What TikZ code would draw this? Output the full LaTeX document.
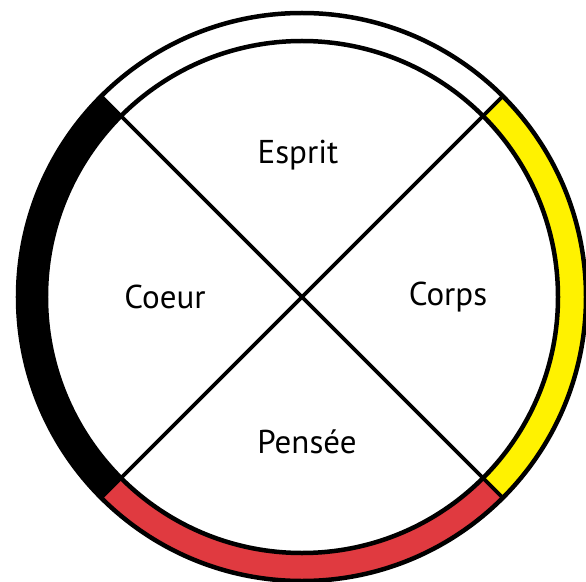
\documentclass[tikz,border=0pt]{standalone}
\usepackage{fontspec}
\setmainfont{PT Sans}
\definecolor{wheelyellow}{RGB}{255,242,0}
\definecolor{wheelred}{RGB}{224,58,64}
\begin{document}
\begin{tikzpicture}[
    x=1pt, y=1pt,
    % all outlines share the same weight
    rim/.style={draw=black, line width=4.5pt},
    cross/.style={draw=black, line width=3.6pt},
    % quarter labels
    lbl/.style={font=\fontsize{33}{38}\selectfont, inner sep=0pt},
]
\def\R{284}
\def\r{256}

% canvas: 586 x 581, wheel centre at (302,297) from top-left
\useasboundingbox (-302,-284) rectangle (284,297);

%% ── Coloured ring quarters ──
\foreach \col/\a in {wheelyellow/-45, wheelred/-135, black/135}{
  \fill[\col] (\a:\R) arc[start angle=\a, end angle=\a+90, radius=\R]
        -- (\a+90:\r) arc[start angle=\a+90, end angle=\a, radius=\r] -- cycle;
}

%% ── Ends of the two diagonals ──
\coordinate (ne) at (45:\R);
\coordinate (nw) at (135:\R);
\coordinate (sw) at (225:\R);
\coordinate (se) at (315:\R);

%% ── Circles ──
\draw[rim] (0,0) circle[radius=\R];
\draw[rim] (0,0) circle[radius=\r];

%% ── Diagonals ──
\draw[cross] (nw) -- (se);
\draw[cross] (ne) -- (sw);

%% ── Quarter labels ──
\node[lbl] (esprit) at (-4, 142)  {Esprit};
\node[lbl] (coeur)  at (-137, 0)  {Coeur};
\node[lbl] (corps)  at (146, 0)   {Corps};
\node[lbl] (pensee) at (5, -145)  {Pensée};

\end{tikzpicture}
\end{document}
